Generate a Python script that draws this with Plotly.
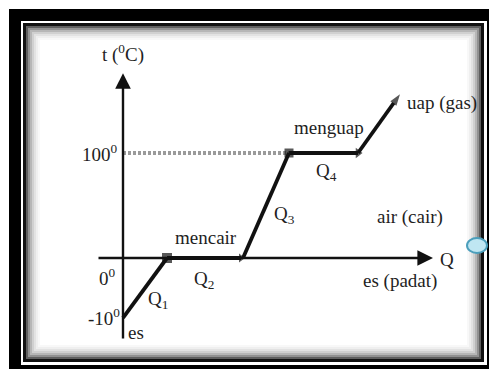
import plotly.graph_objects as go

# Heating curve of water (schematic, not to scale).
# Horizontal: heat supplied Q (arbitrary units); vertical: diagram level,
# where level 0 is 0 degC and level 100 is 100 degC.
seg_q1_q = [0, 44]
seg_q1_lvl = [-57, 0]
seg_q2_q = [44, 118]
seg_q2_lvl = [0, 0]
seg_q3_q = [120, 166]
seg_q3_lvl = [0, 100]
seg_q4_q = [166, 235]
seg_q4_lvl = [100, 100]
seg_gas_q = [235, 277]
seg_gas_lvl = [100, 156]

temp_levels = [100, 0, -57]
temp_labels = ["100<sup>0</sup>", "0<sup>0</sup>", "-10<sup>0</sup>"]

W, H = 491, 369
FONT = "Liberation Serif"
INK = "#111111"
TXT = "#1e1e1e"


def px(x):
    return x / W


def py(y):
    return 1 - y / H


fig = go.Figure()

# 100 degC guide line
fig.add_trace(go.Scatter(
    x=[0, seg_q3_q[1]], y=[temp_levels[0], temp_levels[0]], mode="lines",
    line=dict(color="#9a9a9a", width=4, dash="3px,2px"), hoverinfo="skip"))

segments = [
    (seg_q1_q, seg_q1_lvl, "square", 10, "up"),
    (seg_q2_q, seg_q2_lvl, "triangle-right", 8, "up"),
    (seg_q3_q, seg_q3_lvl, "square", 9, "up"),
    (seg_q4_q, seg_q4_lvl, "triangle-right", 9, "up"),
    (seg_gas_q, seg_gas_lvl, "arrow", 12, "previous"),
]
for xs, ys, sym, size, aref in segments:
    fig.add_trace(go.Scatter(
        x=xs, y=ys, mode="lines+markers",
        line=dict(color=INK, width=3.8),
        marker=dict(symbol=["circle", sym], size=[0, size], color=INK,
                    angleref=aref, line=dict(width=0)),
        hoverinfo="skip"))

# axes with arrowheads
axis_arrows = [
    dict(x=0, y=176, ax=0, ay=-78),
    dict(x=310, y=0, ax=-26, ay=0),
]
for a in axis_arrows:
    fig.add_annotation(x=a["x"], y=a["y"], ax=a["ax"], ay=a["ay"],
                       xref="x", yref="y", axref="x", ayref="y",
                       text="", showarrow=True, arrowhead=2, arrowsize=1.3,
                       arrowwidth=2.4, arrowcolor=INK, standoff=0)

labels = [
    ("t (<sup>0</sup>C)", 0, 195, "center"),
    (temp_labels[0], -3, temp_levels[0], "right"),
    (temp_labels[1], -5, -18, "right"),
    (temp_labels[2], -1, -56, "right"),
    ("es", 13, -71, "center"),
    ("Q<sub>1</sub>", 35, -40, "center"),
    ("mencair", 83, 20, "center"),
    ("Q<sub>2</sub>", 81, -21, "center"),
    ("Q<sub>3</sub>", 161, 41, "center"),
    ("menguap", 206, 124, "center"),
    ("Q<sub>4</sub>", 203, 82, "center"),
    ("uap (gas)", 282, 148, "left"),
    ("air (cair)", 287, 39, "center"),
    ("Q", 315, -1, "left"),
    ("es (padat)", 277, -22, "center"),
]
for text, x, y, anchor in labels:
    fig.add_annotation(x=x, y=y, xref="x", yref="y", text=text,
                       showarrow=False, xanchor=anchor, yanchor="middle",
                       font=dict(family=FONT, size=19, color=TXT))

shapes = []
# outer frame
shapes.append(dict(type="rect", x0=px(9), x1=px(489), y0=py(9), y1=py(369),
                   fillcolor="#000000", line=dict(width=0)))
shapes.append(dict(type="rect", x0=px(21), x1=px(487), y0=py(21), y1=py(365),
                   fillcolor="#ffffff", line=dict(width=0)))
shapes.append(dict(type="rect", x0=px(23), x1=px(484), y0=py(23), y1=py(362),
                   fillcolor="#111111", line=dict(width=0)))
shapes.append(dict(type="rect", x0=px(26), x1=px(481), y0=py(26), y1=py(359),
                   fillcolor="#ffffff", line=dict(width=0)))
# soft inner shadow
greys = [95, 145, 182, 208, 226, 239, 248]
for i, g in enumerate(greys):
    inset = 26 + 1 + 2 * i
    shapes.append(dict(type="rect", x0=px(inset), x1=px(481 - (inset - 26)),
                       y0=py(inset), y1=py(359 - (inset - 26)),
                       line=dict(color=f"rgb({g},{g},{g})", width=2),
                       fillcolor="rgba(0,0,0,0)"))
for s in shapes:
    s.update(xref="paper", yref="paper", layer="below")
    fig.add_shape(**s)

# small blue bead on the right edge
fig.add_shape(type="circle", xref="paper", yref="paper", layer="above",
              x0=px(467), x1=px(487), y0=py(238), y1=py(253),
              fillcolor="#bfe6f2", line=dict(color="#4c9fbc", width=2))

fig.update_xaxes(range=[-123, 368], visible=False, fixedrange=True)
fig.update_yaxes(range=[-105.714, 245.714], visible=False, fixedrange=True)
fig.update_layout(
    width=W, height=H, autosize=False,
    margin=dict(l=0, r=0, t=0, b=0, pad=0),
    paper_bgcolor="#ffffff", plot_bgcolor="rgba(0,0,0,0)",
    font=dict(family=FONT, size=19, color=TXT),
    showlegend=False,
)

fig.write_html("out.html")
